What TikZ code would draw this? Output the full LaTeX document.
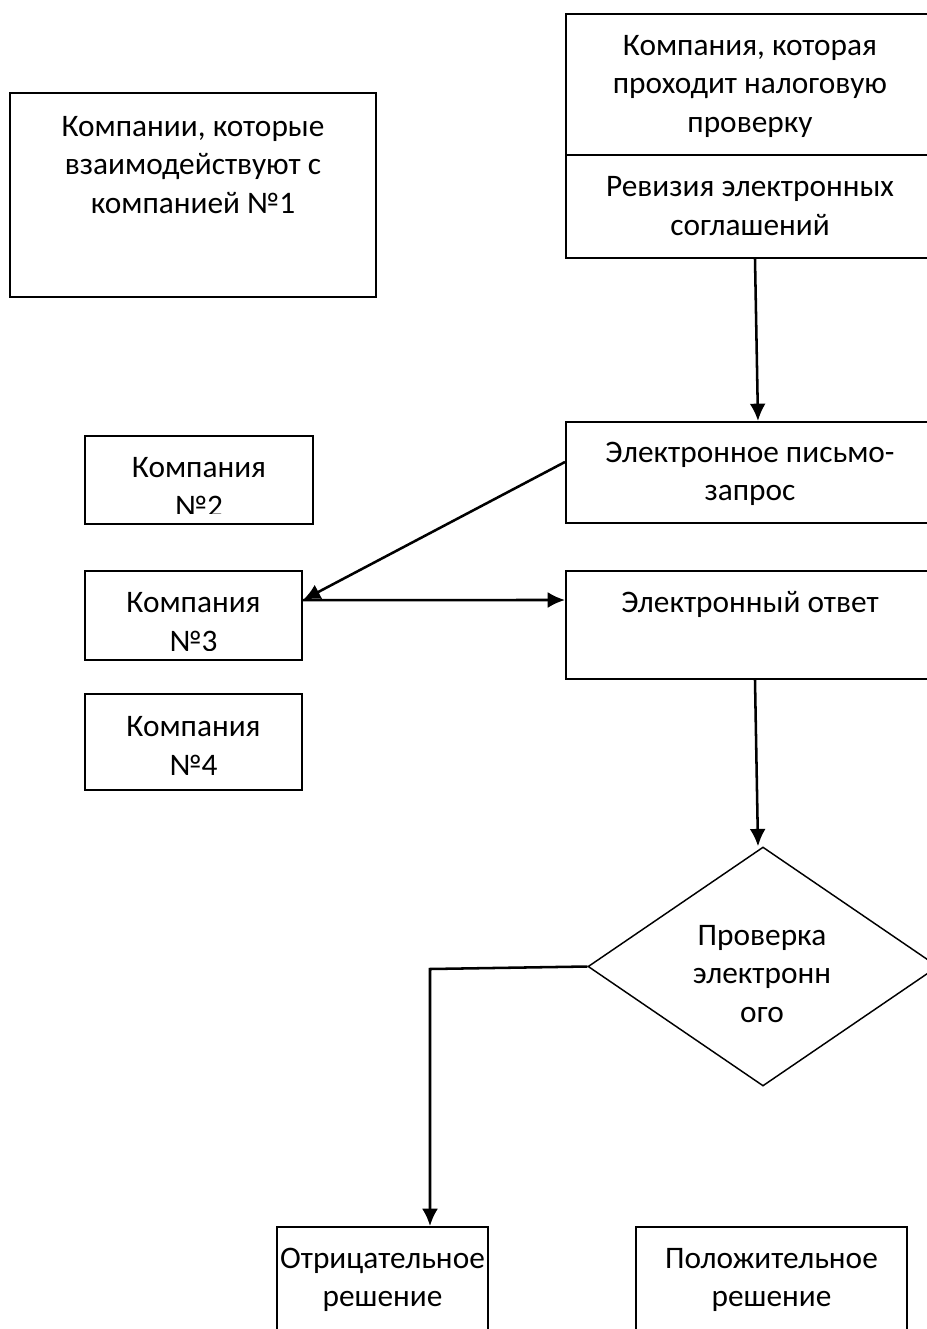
\documentclass[tikz,border=0pt]{standalone}
\usepackage{fontspec}
\setmainfont{Carlito}
\usetikzlibrary{arrows.meta}
\usetikzlibrary{shapes.geometric}

\tikzset{
  box/.style={draw, black, line width=1.5pt, inner sep=0pt},
  txt/.style={align=center, font=\fontsize{23.5pt}{28.9pt}\selectfont},
  arr/.style={black, line width=1.9pt, -{Latex[length=13pt,width=12pt]}}
}

\begin{document}
\begin{tikzpicture}[x=0.75pt, y=-0.75pt]
\useasboundingbox (0,0) rectangle (927,1329);
\clip (0,0) rectangle (927,1329);

% boxes
\node[box, minimum width=276pt, minimum height=105.75pt] (firm) at (750,84.5) {};
\node[box, minimum width=276pt, minimum height=77.25pt] (audit) at (750,206.5) {};
\node[box, minimum width=274.5pt, minimum height=153pt] (partners) at (193,195) {};
\node[box, minimum width=276pt, minimum height=75.75pt] (letter) at (750,472.5) {};
\node[box, minimum width=171pt, minimum height=66pt] (firmtwo) at (199,480) {};
\node[box, minimum width=162.75pt, minimum height=66.75pt] (firmthree) at (193.5,615.5) {};
\node[box, minimum width=162.75pt, minimum height=72pt] (firmfour) at (193.5,742) {};
\node[box, minimum width=276pt, minimum height=81pt] (reply) at (750,625) {};
\node[box, diamond, line width=1.1pt, minimum width=262.5pt, minimum height=179.25pt] (check) at (763,966.5) {};
\node[box, minimum width=158.25pt, minimum height=99.75pt] (negative) at (382.5,1293.5) {};
\node[box, minimum width=203.25pt, minimum height=99.75pt] (positive) at (771.5,1293.5) {};

% texts
\node[txt] (firm-t) at (750,86) {Компания, которая\\проходит налоговую\\проверку};
\node[txt] (audit-t) at (750,206) {Ревизия электронных\\соглашений};
\node[txt] (partners-t) at (193,165) {Компании, которые\\взаимодействуют с\\компанией №1};
\node[txt] (letter-t) at (750,474) {Электронное письмо-\\запрос};
\begin{scope}
\clip (85,436) rectangle (313,513);
\node[txt] (firmtwo-t) at (199,487) {Компания\\№2};
\end{scope}
\begin{scope}
\clip (85,571) rectangle (302,650);
\node[txt] (firmthree-t) at (193.5,622) {Компания\\№3};
\end{scope}
\node[txt] (firmfour-t) at (193.5,746) {Компания\\№4};
\node[txt] (reply-t) at (750,604) {Электронный ответ};
\node[txt] (check-t) at (762,974) {Проверка\\электронн\\ого};
\node[txt] (negative-t) at (382.5,1280) {Отрицательное\\решение};
\node[txt] (positive-t) at (771.5,1280) {Положительное\\решение};

% connectors
\draw[arr] ([xshift=3.75pt]audit.south) -- ([xshift=6pt]letter.north);
\draw[arr] ([yshift=7.9pt]letter.west) -- ([yshift=11.6pt]firmthree.east);
\draw[arr] ([yshift=11.6pt]firmthree.east) -- ([yshift=18.75pt]reply.west);
\draw[arr] ([xshift=3.75pt]reply.south) -- ([xshift=-3.75pt]check.north);
\coordinate (bend) at (430,969);
\draw[arr] (check.west) -- (bend) -- (bend |- negative.north);

\end{tikzpicture}
\end{document}
